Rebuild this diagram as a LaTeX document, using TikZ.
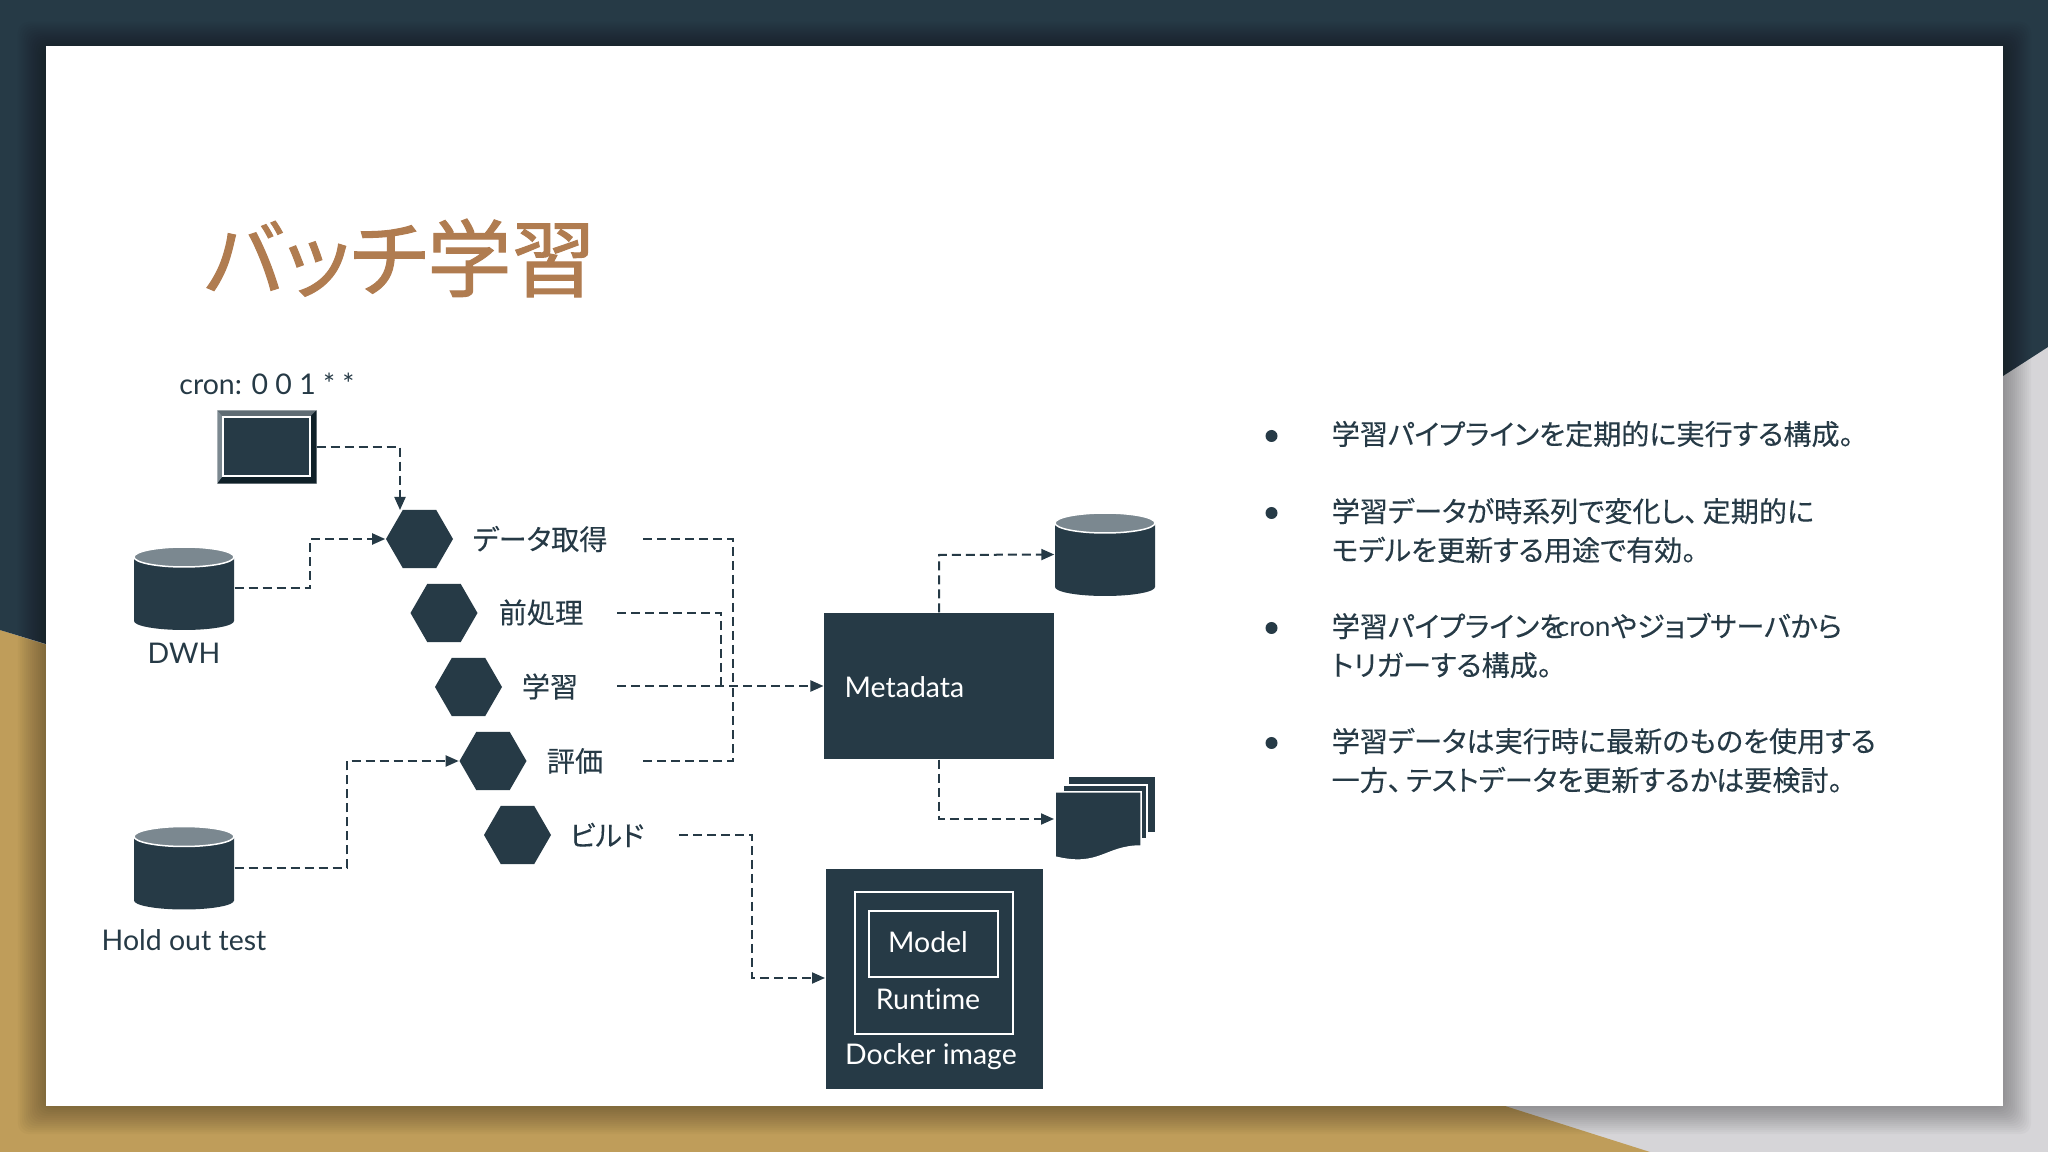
\documentclass[tikz,border=0pt]{standalone}
\usepackage{fontspec}
\usepackage{tikz}
\usetikzlibrary{shapes.geometric,arrows.meta}
\setmainfont{Lato}[RawFeature={-liga}]
\newfontfamily\cjk[RawFeature={+palt},FakeBold=0.2]{Noto Sans CJK JP}
\newfontfamily\cjktitle[RawFeature={+palt},FakeBold=1.2]{Noto Sans CJK JP}
\definecolor{navy}{HTML}{263A46}
\definecolor{gold}{HTML}{BF9D5A}
\definecolor{mist}{HTML}{D6D5D8}
\definecolor{rust}{HTML}{B07C50}
\definecolor{lidgray}{HTML}{7B8890}
\definecolor{bevelmid}{HTML}{5F6C74}
\definecolor{beveldark}{HTML}{0F2028}
\tikzset{
  hexa/.style={regular polygon,regular polygon sides=6,fill=navy,minimum size=0.67cm,inner sep=0pt},
  drum/.style={minimum width=1.00cm,minimum height=0.83cm,inner sep=0pt},
  step label/.style={text=navy,font=\fontsize{8}{9}\selectfont\cjk,inner sep=0pt},
  plain label/.style={text=navy,font=\fontsize{8.1}{10}\selectfont,inner sep=0pt},
  box label/.style={text=white,font=\fontsize{8.1}{10}\selectfont,inner sep=0pt},
  bullet text/.style={text=navy,anchor=west,align=left,inner sep=0pt,font=\fontsize{8}{11.06}\selectfont\cjk},
  bullet dot/.style={circle,fill=navy,minimum size=0.12cm,inner sep=0pt},
  dash line/.style={navy,line width=0.02cm,dash pattern=on 0.09cm off 0.05cm},
  dash arrow/.style={dash line,-{Triangle[length=0.13cm,width=0.11cm]}}
}
\newcommand{\drumbody}[1]{
  \fill[navy,shift={(#1.center)}] (-0.5,0.30) -- (-0.5,-0.325) arc (180:360:0.5 and 0.09) -- (0.5,0.30) -- cycle;
  \filldraw[lidgray,draw=white,line width=0.015cm,shift={(#1.center)}] (0,0.315) ellipse (0.5 and 0.10);
}
\begin{document}
\begin{tikzpicture}
\useasboundingbox (0,0) rectangle (20.48,-11.52);
% background
\fill[mist] (0,0) rectangle (20.48,-11.52);
\fill[gold] (0,-6.30) -- (15.05,-11.06) -- (16.50,-11.52) -- (0,-11.52) -- cycle;
\fill[navy] (0,0) -- (20.48,0) -- (20.48,-3.47) -- (20.03,-3.76) -- (0.46,-6.44) -- (0,-6.30) -- cycle;
\foreach \i in {1,...,14}
  \fill[black,opacity=0.022,rounded corners=0.1cm] (0.46-0.02*\i,-0.46+0.02*\i-0.04) rectangle (20.03+0.02*\i,-11.06-0.02*\i);
\fill[white] (0.46,-0.46) rectangle (20.03,-11.06);
% title
\node (title) at (4.00,-2.58) {\fontsize{24}{28}\selectfont\color{rust}\cjktitle バッチ学習};
% cron box
\node[fill=navy,minimum width=0.98cm,minimum height=0.72cm,inner sep=0pt] (cron) at (2.67,-4.47) {};
\fill[bevelmid] (cron.north west) -- (cron.north east) -- (3.10,-4.17) -- (2.23,-4.17) -- cycle;
\fill[lidgray] (cron.north west) -- (cron.south west) -- (2.23,-4.76) -- (2.23,-4.17) -- cycle;
\fill[beveldark] (cron.north east) -- (cron.south east) -- (3.10,-4.76) -- (3.10,-4.17) -- cycle;
\fill[beveldark] (cron.south west) -- (cron.south east) -- (3.10,-4.76) -- (2.23,-4.76) -- cycle;
\draw[white,line width=0.015cm] (2.23,-4.17) rectangle (3.10,-4.76);
\node[plain label] (cronlabel) at (2.67,-3.84) {cron: 0 0 1 * *};
% steps
\node[hexa] (h1) at (4.195,-5.39) {};
\node[hexa] (h2) at (4.44,-6.13) {};
\node[hexa] (h3) at (4.685,-6.87) {};
\node[hexa] (h4) at (4.93,-7.61) {};
\node[hexa] (h5) at (5.175,-8.35) {};
\node[step label] (s1) at (5.40,-5.39) {データ取得};
\node[step label] (s2) at (5.41,-6.125) {前処理};
\node[step label] (s3) at (5.50,-6.865) {学習};
\node[step label] (s4) at (5.75,-7.61) {評価};
\node[step label] (s5) at (6.07,-8.35) {ビルド};
% stores
\node[drum] (dwh) at (1.84,-5.885) {};
\drumbody{dwh}
\node[plain label] (dwhlabel) at (1.84,-6.53) {DWH};
\node[drum] (holdout) at (1.84,-8.68) {};
\drumbody{holdout}
\node[plain label] (holdoutlabel) at (1.84,-9.40) {Hold out test};
\node[drum] (store) at (11.05,-5.545) {};
\drumbody{store}
% metadata
\node[fill=navy,minimum width=2.30cm,minimum height=1.46cm,inner sep=0pt] (meta) at (9.392,-6.86) {};
\node[box label,anchor=west] (metalabel) at (8.44,-6.87) {Metadata};
% documents
\coordinate (docs) at (10.54,-8.19);
\fill[navy] (10.69,-7.77) rectangle (11.55,-8.32);
\fill[navy,draw=white,line width=0.015cm] (10.63,-7.85) rectangle (11.47,-8.39);
\fill[navy,draw=white,line width=0.015cm] (10.55,-7.92) -- (11.41,-7.92) -- (11.41,-8.46)
  .. controls (11.05,-8.46) and (11.00,-8.68) .. (10.55,-8.57) -- cycle;
% docker image
\node[fill=navy,minimum width=2.17cm,minimum height=2.19cm,inner sep=0pt] (docker) at (9.34,-9.79) {};
\node[draw=white,line width=0.02cm,minimum width=1.58cm,minimum height=1.42cm,inner sep=0pt] (runtimebox) at (9.34,-9.63) {};
\node[draw=white,line width=0.02cm,minimum width=1.29cm,minimum height=0.66cm,inner sep=0pt] (modelbox) at (9.335,-9.44) {};
\node[box label] (modellabel) at (9.28,-9.42) {Model};
\node[box label] (runtimelabel) at (9.28,-9.99) {Runtime};
\node[box label] (dockerlabel) at (9.31,-10.57) {Docker image};
% connectors
\draw[dash arrow] (cron.east) -- (4.00,-4.47) -- (4.00,-5.10);
\draw[dash arrow] (dwh.east) -- (3.10,-5.885) -- (3.10,-5.39) -- (h1.west);
\draw[dash arrow] (holdout.east) -- (3.47,-8.68) -- (3.47,-7.61) -- (h4.west);
\coordinate (o1) at (6.43,-5.39);
\coordinate (o2) at (6.17,-6.13);
\coordinate (o3) at (6.17,-6.86);
\coordinate (o4) at (6.43,-7.61);
\coordinate (o5) at (6.79,-8.35);
\draw[dash line] (o1) -- (7.33,-5.39) -- (7.33,-6.86);
\draw[dash line] (o2) -- (7.21,-6.13) -- (7.21,-6.86);
\draw[dash arrow] (o3) -- (meta.west);
\draw[dash line] (o4) -- (7.33,-7.61) -- (7.33,-6.86);
\draw[dash arrow] (o5) -- (7.52,-8.35) -- (7.52,-9.78) -- (8.25,-9.78);
\draw[dash arrow] (meta.north) -- (9.392,-5.55) -- (store.west);
\draw[dash arrow] (meta.south) -- (9.392,-8.19) -- (docs);
% bullets
\node[bullet dot] (b1) at (12.715,-4.36) {};
\node[bullet dot] (b2) at (12.715,-5.13) {};
\node[bullet dot] (b3) at (12.715,-6.28) {};
\node[bullet dot] (b4) at (12.715,-7.43) {};
\node[bullet text] (t1) at (13.31,-4.34) {学習パイプラインを定期的に実行する構成。};
\node[bullet text] (t2) at (13.31,-5.305) {学習データが時系列で変化し、\kern1.2pt 定期的に\\モデルを更新する用途で有効。};
\node[bullet text] (t3) at (13.31,-6.455) {学習パイプラインを\kern-2.6pt{\rmfamily cron}やジョブサーバから\\トリガーする構成。};
\node[bullet text] (t4) at (13.31,-7.605) {学習データは実行時に最新のものを使用する\\一方、\kern1.2pt テストデータを更新するかは要検討。};
\end{tikzpicture}
\end{document}
